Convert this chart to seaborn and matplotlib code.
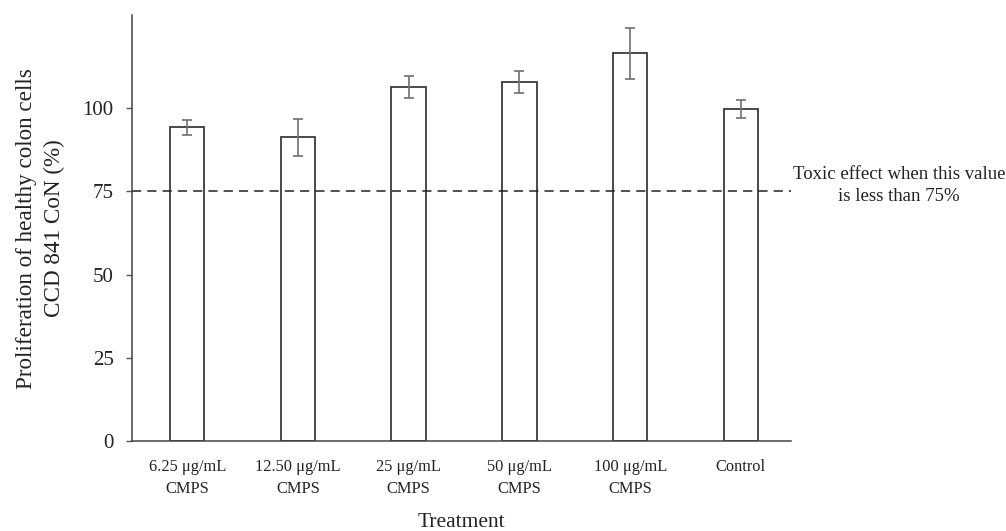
import matplotlib
matplotlib.use("Agg")
import matplotlib.pyplot as plt
import seaborn as sns
import pandas as pd
import numpy as np

# Data
categories = ["6.25 μg/mL\nCMPS", "12.50 μg/mL\nCMPS", "25 μg/mL\nCMPS",
              "50 μg/mL\nCMPS", "100 μg/mL\nCMPS", "Control"]
proliferation = [94.2, 91.2, 106.4, 107.8, 116.5, 99.8]
errors = [2.3, 5.5, 3.3, 3.4, 7.7, 2.7]
toxic_threshold = 75

df = pd.DataFrame({"Treatment": categories, "Proliferation": proliferation})

sns.set_style("white")
plt.rcParams['font.family'] = ['Liberation Serif', 'DejaVu Serif']

fig = plt.figure(figsize=(10.06, 5.31), dpi=100)
ax = fig.add_axes([0.131, 0.169, 0.655, 0.803])

sns.barplot(data=df, x="Treatment", y="Proliferation", ax=ax,
            color="white", edgecolor="#3a3a3a", linewidth=1.3, width=0.31,
            errorbar=None)

# error bars on top of the bars
xpos = np.arange(len(categories))
ax.errorbar(xpos, proliferation, yerr=errors, fmt="none", ecolor="#707070",
            elinewidth=1.2, capsize=3.8, capthick=1.2, zorder=3)

# toxic threshold line
ax.axhline(toxic_threshold, color="#222222", linestyle=(0, (6, 4)), linewidth=1.1)
ax.text(1.164, toxic_threshold + 1.8, "Toxic effect when this value\nis less than 75%",
        transform=ax.get_yaxis_transform(), ha="center", va="center",
        fontsize=13.5, color="#222222", linespacing=1.45)

ax.set_ylim(0, 128)
ax.set_xlim(-0.5, 5.45)
ax.set_yticks([0, 25, 50, 75, 100])
ax.tick_params(axis="y", left=True, length=4, width=1, color="#555555",
               labelsize=15, pad=9, labelcolor="#222222")
ax.tick_params(axis="x", bottom=False, labelsize=11.8, pad=9.5, labelcolor="#222222")
for lab in ax.get_xticklabels():
    lab.set_linespacing(1.5)

ax.set_xlabel("Treatment", fontsize=15.5, labelpad=11, color="#222222")
ax.set_ylabel("Proliferation of healthy colon cells\nCCD 841 CoN (%)",
              fontsize=16.7, labelpad=13, color="#222222", linespacing=1.4)

sns.despine(ax=ax)
for side in ["left", "bottom"]:
    ax.spines[side].set_color("#444444")
    ax.spines[side].set_linewidth(1.1)

fig.savefig("out.png", dpi=100)
